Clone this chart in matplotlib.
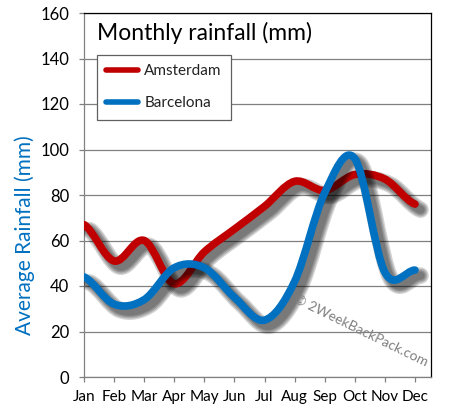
import matplotlib
matplotlib.use("Agg")
import matplotlib.pyplot as plt
from matplotlib.path import Path
from matplotlib.patches import PathPatch
from matplotlib.lines import Line2D
import matplotlib.patheffects as pe

months = ["Jan", "Feb", "Mar", "Apr", "May", "Jun", "Jul", "Aug", "Sep", "Oct", "Nov", "Dec"]
amsterdam = [67, 51, 60, 41, 55, 65, 75, 86, 82, 89, 87, 76]
barcelona = [44, 32, 34, 48, 48, 35, 25, 42, 81, 96, 46, 47]
y_ticks = [0, 20, 40, 60, 80, 100, 120, 140, 160]

RED = "#c00000"
BLUE = "#0070c0"
GREY = "#808080"

plt.rcParams["font.family"] = ["Lato", "DejaVu Sans"]


def smooth_path(ys):
    # catmull-rom through the points, handed to matplotlib as cubic beziers
    n = len(ys)
    m = []
    for i in range(n):
        a = ys[max(i - 1, 0)]
        b = ys[min(i + 1, n - 1)]
        m.append((b - a) / 2.0)
    verts = [(0, ys[0])]
    codes = [Path.MOVETO]
    for i in range(n - 1):
        verts += [(i + 1 / 3, ys[i] + m[i] / 3),
                  (i + 2 / 3, ys[i + 1] - m[i + 1] / 3),
                  (i + 1, ys[i + 1])]
        codes += [Path.CURVE4] * 3
    return Path(verts, codes)


shadow = [pe.SimpleLineShadow(offset=(4, -4), shadow_color="k", alpha=0.17, linewidth=w)
          for w in (12, 10, 8, 6)] + [pe.Normal()]

fig = plt.figure(figsize=(4.51, 4.18), dpi=100)
ax = fig.add_axes([84 / 451, 41 / 418, 347 / 451, 364 / 418])

for ys, col in ((amsterdam, RED), (barcelona, BLUE)):
    patch = PathPatch(smooth_path(ys), fill=False, edgecolor=col, linewidth=5.5,
                      capstyle="round", joinstyle="round", zorder=3)
    patch.set_path_effects(shadow)
    ax.add_patch(patch)

ax.set_xlim(0, 11 + 16 / 30)
ax.set_ylim(0, 160)
ax.set_xticks(range(len(months)))
ax.set_xticklabels(months)
ax.set_yticks(y_ticks)

ax.set_axisbelow(True)
ax.yaxis.grid(True, color=GREY, linewidth=0.9)
ax.spines["left"].set_color(GREY)
ax.spines["bottom"].set_color(GREY)
ax.spines["top"].set_color("black")
ax.spines["right"].set_color("black")
for s in ax.spines.values():
    s.set_linewidth(0.9)
ax.tick_params(axis="both", color=GREY, labelcolor="black", length=3.6, width=0.9)
ax.tick_params(axis="x", labelsize=11, pad=6)
ax.tick_params(axis="y", labelsize=12, pad=7)

ax.set_ylabel("Average Rainfall (mm)", color=BLUE, fontsize=15)
ax.yaxis.set_label_coords(-0.14, 0.39)

ax.text(0.0375, 0.945, "Monthly rainfall (mm)", transform=ax.transAxes,
        fontsize=16.5, ha="left", va="center", color="black")

handles = [Line2D([], [], color=RED, lw=4, solid_capstyle="round"),
           Line2D([], [], color=BLUE, lw=4, solid_capstyle="round")]
leg = ax.legend(handles, ["Amsterdam", "Barcelona"], loc="upper left",
                bbox_to_anchor=(0.0375, 0.885), borderaxespad=0, fancybox=False,
                framealpha=1, edgecolor="#606060", fontsize=11, handlelength=2.1,
                labelspacing=1.2, borderpad=0.6, handletextpad=0.4)
leg.get_frame().set_linewidth(0.9)
for t in leg.get_texts():
    t.set_color("#222222")

ax.text(0.798, 0.126, "\u00a9 2WeekBackPack.com", transform=ax.transAxes,
        fontsize=10, color=GREY, rotation=-26, ha="center", va="center",
        rotation_mode="anchor")

fig.savefig("out.png", dpi=100)
